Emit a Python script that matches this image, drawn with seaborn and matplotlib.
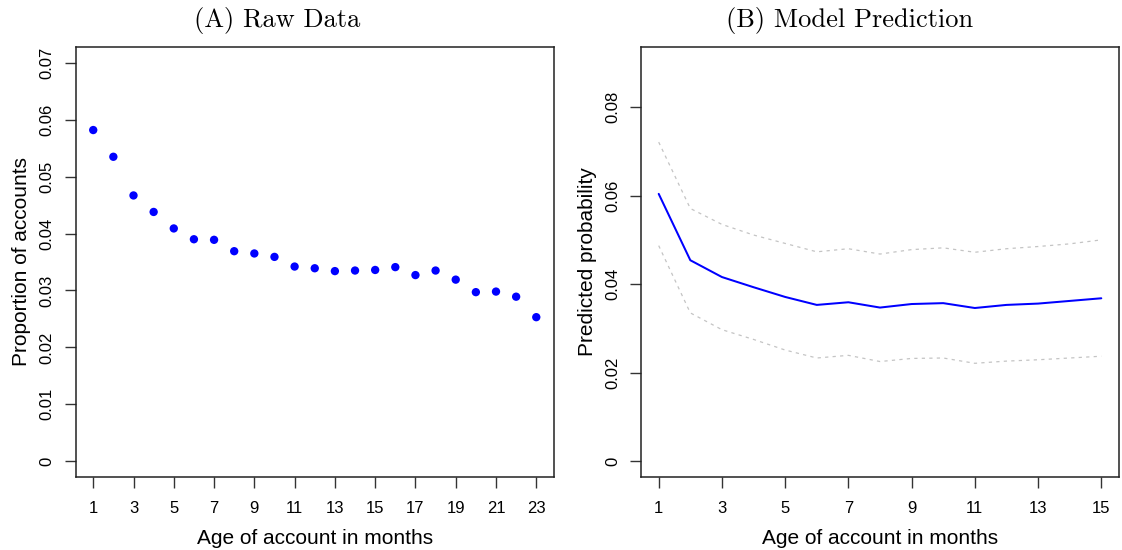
import matplotlib
matplotlib.use("Agg")
import matplotlib.pyplot as plt
import seaborn as sns
import pandas as pd

# ---- data ----
age_raw = list(range(1, 24))
prop_accounts = [0.0582, 0.0535, 0.0467, 0.0438, 0.0409, 0.0390, 0.0389, 0.0369,
                 0.0365, 0.0359, 0.0342, 0.0339, 0.0334, 0.0335, 0.0336, 0.0341,
                 0.0327, 0.0335, 0.0319, 0.0297, 0.0298, 0.0289, 0.0253]

age_model = list(range(1, 16))
pred_mean = [0.0604, 0.0454, 0.0416, 0.0393, 0.0371, 0.0353, 0.0359, 0.0347,
             0.0355, 0.0357, 0.0346, 0.0353, 0.0356, 0.0362, 0.0368]
pred_upper = [0.0721, 0.0571, 0.0535, 0.0511, 0.0492, 0.0473, 0.0480, 0.0468,
              0.0478, 0.0482, 0.0472, 0.0480, 0.0485, 0.0491, 0.0500]
pred_lower = [0.0487, 0.0335, 0.0297, 0.0275, 0.0251, 0.0233, 0.0239, 0.0225,
              0.0232, 0.0233, 0.0221, 0.0226, 0.0229, 0.0233, 0.0237]

xticks_a = [1, 3, 5, 7, 9, 11, 13, 15, 17, 19, 21, 23]
yticks_a = [0, 0.01, 0.02, 0.03, 0.04, 0.05, 0.06, 0.07]
yticklabels_a = ["0", "0.01", "0.02", "0.03", "0.04", "0.05", "0.06", "0.07"]
xticks_b = [1, 3, 5, 7, 9, 11, 13, 15]
yticks_b = [0, 0.02, 0.04, 0.06, 0.08]
yticklabels_b = ["0", "0.02", "0.04", "0.06", "0.08"]

title_a = "(A) Raw Data"
title_b = "(B) Model Prediction"
xlabel = "Age of account in months"
ylabel_a = "Proportion of accounts"
ylabel_b = "Predicted probability"

sns.set_style("ticks")
plt.rcParams['font.family'] = ['Liberation Sans', 'DejaVu Sans']
plt.rcParams['text.color'] = 'black'
plt.rcParams['axes.labelcolor'] = 'black'
plt.rcParams['xtick.color'] = 'black'
plt.rcParams['ytick.color'] = 'black'

fig = plt.figure(figsize=(11.22, 5.5), dpi=100)
ax_a = fig.add_axes([75.5 / 1122, 73 / 550, (554 - 75.5) / 1122, 430 / 550])
ax_b = fig.add_axes([641 / 1122, 73 / 550, (1119 - 641) / 1122, 430 / 550])

df_a = pd.DataFrame({"age": age_raw, "prop": prop_accounts})
sns.scatterplot(data=df_a, x="age", y="prop", ax=ax_a, color="#0000FF",
                s=36, edgecolor="none", linewidth=0)

df_b = pd.DataFrame({"age": age_model, "mean": pred_mean,
                     "upper": pred_upper, "lower": pred_lower})
sns.lineplot(data=df_b, x="age", y="upper", ax=ax_b, color="#C4C4C4",
             linewidth=0.9, linestyle=(0, (2.6, 3.4)))
sns.lineplot(data=df_b, x="age", y="lower", ax=ax_b, color="#C4C4C4",
             linewidth=0.9, linestyle=(0, (2.6, 3.4)))
sns.lineplot(data=df_b, x="age", y="mean", ax=ax_b, color="#0000FF",
             linewidth=1.45)

def style(ax, xt, yt, ytl, ylab, ymax, xmin, xmax):
    rx = (xmax - xmin) * 0.04
    ax.set_xlim(xmin - rx, xmax + rx)
    ry = ymax * 0.04
    ax.set_ylim(-ry, ymax + ry)
    ax.set_xticks(xt)
    ax.set_xticklabels([str(v) for v in xt])
    ax.set_yticks(yt)
    ax.set_yticklabels(ytl, rotation=90, va="center")
    ax.tick_params(axis="both", length=8, width=1, color="#333333",
                   labelsize=12, labelcolor="black", direction="out")
    ax.tick_params(axis="x", pad=9)
    ax.tick_params(axis="y", pad=7)
    for sp in ax.spines.values():
        sp.set_visible(True)
        sp.set_color("#222222")
        sp.set_linewidth(1.1)
    ax.set_xlabel(xlabel, fontsize=15, labelpad=10, color="black")
    ax.set_ylabel(ylab, fontsize=15, labelpad=6, color="black")
    ax.grid(False)

style(ax_a, xticks_a, yticks_a, yticklabels_a, ylabel_a, 0.07, 1, 23)
style(ax_b, xticks_b, yticks_b, yticklabels_b, ylabel_b, 0.09, 1, 15)

fig.text(277 / 1122, 1 - 20 / 550, title_a, family="cmr10", fontsize=19,
         ha="center", va="center", color="black")
fig.text(850 / 1122, 1 - 20 / 550, title_b, family="cmr10", fontsize=19,
         ha="center", va="center", color="black")

fig.savefig("out.png", dpi=100, facecolor="white")
